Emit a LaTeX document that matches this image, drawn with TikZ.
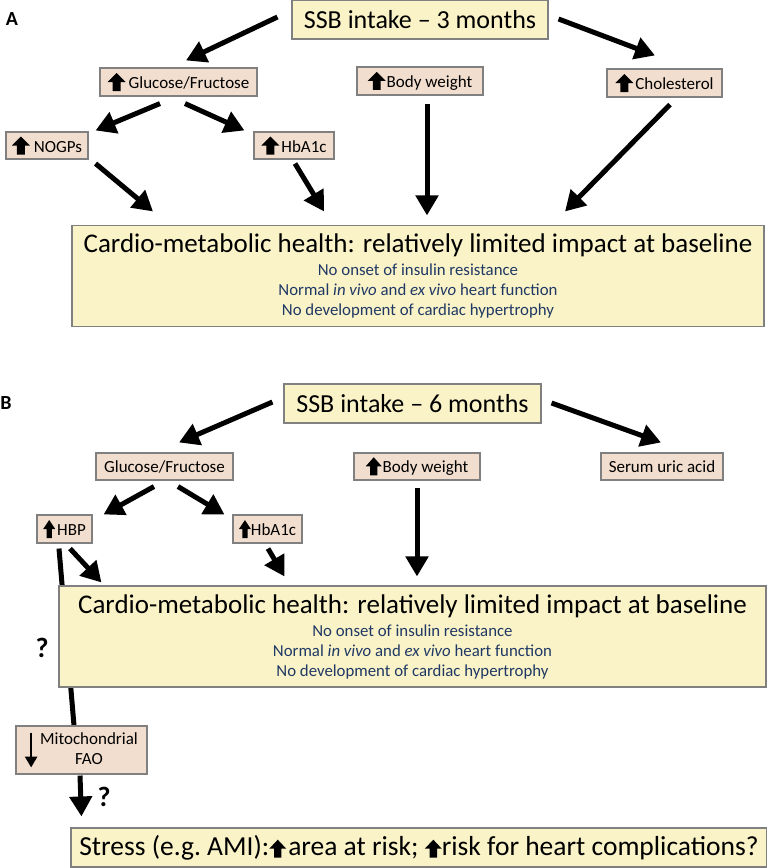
\documentclass[tikz,border=0pt]{standalone}
\usepackage{fontspec}
\setmainfont{Carlito}
\usetikzlibrary{arrows.meta}
\usetikzlibrary{backgrounds}
\definecolor{sbyellow}{RGB}{250,243,200}
\definecolor{sbtan}{RGB}{242,222,206}
\definecolor{sbnavy}{RGB}{31,56,100}
\newcommand{\upblk}[1]{\tikz[baseline=2.5pt,x=#1pt,y=1pt]\fill[black,draw=none] (-0.22,0) -- (0.22,0) -- (0.22,9) -- (0.5,9) -- (0,18) -- (-0.5,9) -- (-0.22,9) -- cycle;}
\newcommand{\dnarr}{\tikz[x=1pt,y=1pt]\draw[black,line width=2.6pt,-{Triangle[length=11pt,width=12pt]}] (0,35) -- (0,0);}
\newcommand{\cardtext}{{\fontsize{27}{30}\selectfont Cardio-metabolic health: relatively limited impact at baseline}\\[3pt]
{\color{sbnavy}No onset of insulin resistance}\\
{\color{sbnavy}Normal \textit{in vivo} and \textit{ex vivo} heart function}\\
{\color{sbnavy}No development of cardiac hypertrophy}}

\begin{document}
\begin{tikzpicture}[x=1pt,y=-1pt,
  ybox/.style={draw=black!50,line width=1.1pt,fill=sbyellow,inner sep=0pt},
  tbox/.style={draw=black!50,line width=1.1pt,fill=sbtan,inner sep=0pt,font=\fontsize{17}{20}\selectfont},
  bigtext/.style={font=\fontsize{26}{30}\selectfont},
  subtext/.style={align=center,font=\fontsize{16.8}{20}\selectfont},
  fat/.style={line width=5pt,-{Triangle[length=20pt,width=22pt]}},
  qmark/.style={font=\bfseries\fontsize{28}{30}\selectfont}]
\useasboundingbox (0,0) rectangle (767,868);

% panel A
\node at (12,19)[font=\bfseries\fontsize{20}{22}\selectfont] (labA) {A};
\node at (420,19.5)[ybox,bigtext,minimum width=256,minimum height=39] (ssbA) {SSB intake -- 3 months};
\node at (178.5,82)[tbox,minimum width=157,minimum height=28] (gluA) {\upblk{18}\hspace{3pt}Glucose/Fructose};
\node at (420,81)[tbox,minimum width=126,minimum height=28] (bwA) {\upblk{18}\hspace{1pt}Body weight};
\node at (664.5,83)[tbox,minimum width=115,minimum height=28] (cholA) {\upblk{18}\hspace{2pt}Cholesterol};
\node at (47,145.5)[tbox,minimum width=82,minimum height=27] (nogA) {\upblk{18}\hspace{4pt}NOGPs};
\node at (294,145.5)[tbox,minimum width=80,minimum height=27] (hbA) {\upblk{18}\hspace{2pt}HbA1c};
\node at (418,276)[ybox,subtext,minimum width=692,minimum height=101] (cardA) {\cardtext};

\draw[fat] ([shift={(-14,-2.5)}]ssbA.west) -- ([shift={(7.5,-7)}]gluA.north);
\draw[fat] ([shift={(10,-0.5)}]ssbA.east) -- ([shift={(-9.5,-13)}]cholA.north);
\draw[fat] ([shift={(-18.5,7)}]gluA.south) -- ([shift={(7,-1)}]nogA.north east);
\draw[fat] ([shift={(6.5,7)}]gluA.south) -- ([shift={(-9,-1)}]hbA.north west);
\draw[fat] ([shift={(7,4)}]nogA.south east) -- ([shift={(-265,-13.5)}]cardA.north);
\draw[fat] ([shift={(1,4)}]hbA.south) -- ([shift={(-94,-13.5)}]cardA.north);
\draw[fat] ([shift={(7,8)}]bwA.south) -- ([shift={(9,-9.5)}]cardA.north);
\draw[fat] ([shift={(5.5,7)}]cholA.south) -- ([shift={(147,-13.5)}]cardA.north);

% panel B
\node at (6,403)[font=\bfseries\fontsize{20}{22}\selectfont] (labB) {B};
\node at (412.5,403.5)[ybox,bigtext,minimum width=257,minimum height=39] (ssbB) {SSB intake -- 6 months};
\node at (164.5,466.5)[tbox,minimum width=137,minimum height=27] (gluB) {Glucose/Fructose};
\node at (417,466.5)[tbox,minimum width=126,minimum height=27] (bwB) {\upblk{16}\hspace{1pt}Body weight};
\node at (662,466.5)[tbox,minimum width=122,minimum height=27] (uricB) {Serum uric acid};
\node at (64.5,529)[tbox,minimum width=55,minimum height=28] (hbpB) {\upblk{12}\hspace{2pt}HBP};
\node at (267.5,529)[tbox,minimum width=69,minimum height=28] (hbB) {\upblk{12}HbA1c};
\node at (412.5,636.5)[ybox,subtext,minimum width=707,minimum height=101] (cardB) {\cardtext};
\node at (81.5,750)[tbox,minimum width=131,minimum height=48] (mitoB) {$\vcenter{\hbox{\dnarr}}$\hspace{3pt}\begin{tabular}{@{}c@{}}Mitochondrial\\FAO\end{tabular}};
\node at (419,847.5)[ybox,font=\fontsize{27.5}{30}\selectfont,minimum width=696,minimum height=39] (stressB) {Stress (e.g.\ AMI):\upblk{17}\hspace{2pt}area at risk; \upblk{17}risk for heart complications?};
\node at (42,648)[qmark] (q1) {?};
\node at (104,797)[qmark] (q2) {?};

\draw[fat] ([shift={(-11,-1.5)}]ssbB.west) -- ([shift={(14.5,-10)}]gluB.north);
\draw[fat] ([shift={(10,-0.5)}]ssbB.east) -- ([shift={(-1,-10)}]uricB.north);
\draw[fat] ([shift={(-10.5,6)}]gluB.south) -- ([shift={(11,0)}]hbpB.north east);
\draw[fat] ([shift={(13.5,6)}]gluB.south) -- ([shift={(-8,0)}]hbB.north west);
\draw[fat] ([shift={(5.5,5)}]hbpB.south) -- ([shift={(43,-3)}]cardB.north west);
\draw[fat] ([shift={(0.5,5)}]hbB.south) -- ([shift={(226,-9)}]cardB.north west);
\draw[fat] ([shift={(0,7)}]bwB.south) -- ([shift={(4.5,-9)}]cardB.north);
\begin{scope}[on background layer]
\draw[line width=5pt] ([shift={(-5.5,5)}]hbpB.south) -- ([shift={(-7.5,0)}]mitoB.north);
\end{scope}
\draw[fat] ([shift={(-1.5,1)}]mitoB.south) -- ([shift={(11,-11)}]stressB.north west);
\end{tikzpicture}
\end{document}
